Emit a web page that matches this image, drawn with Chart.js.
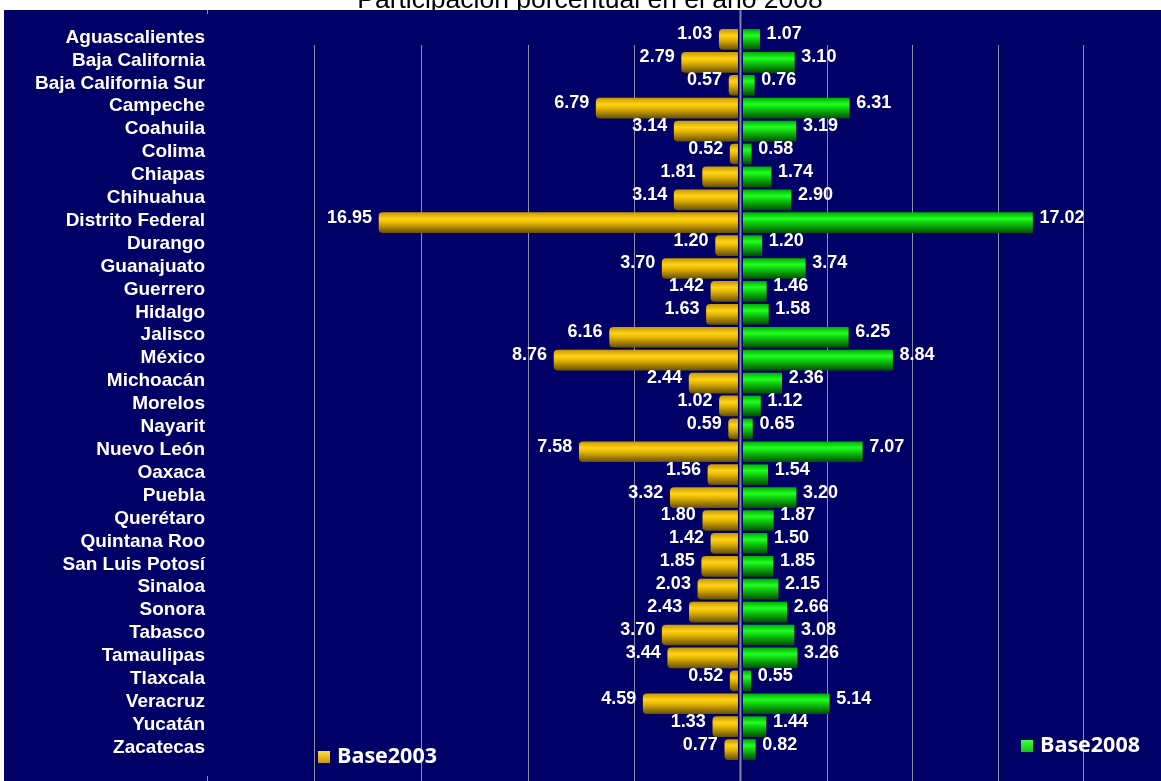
<!DOCTYPE html>
<html>
<head>
<meta charset="utf-8">
<script src="https://cdn.jsdelivr.net/npm/chart.js@4"></script>
<style>
  body { margin: 0; background: #fff; }
  #wrap { width: 1161px; height: 781px; }
</style>
</head>
<body>
<div id="wrap"><canvas id="myChart" width="1161" height="781"></canvas></div>
<script>
var estados = ["Aguascalientes", "Baja California", "Baja California Sur", "Campeche", "Coahuila", "Colima",
    "Chiapas", "Chihuahua", "Distrito Federal", "Durango", "Guanajuato", "Guerrero", "Hidalgo", "Jalisco",
    "México", "Michoacán", "Morelos", "Nayarit", "Nuevo León", "Oaxaca", "Puebla", "Querétaro",
    "Quintana Roo", "San Luis Potosí", "Sinaloa", "Sonora", "Tabasco", "Tamaulipas", "Tlaxcala",
    "Veracruz", "Yucatán", "Zacatecas"];
var base2003 = [1.03, 2.79, 0.57, 6.79, 3.14, 0.52, 1.81, 3.14, 16.95, 1.20, 3.70, 1.42, 1.63, 6.16,
    8.76, 2.44, 1.02, 0.59, 7.58, 1.56, 3.32, 1.80, 1.42, 1.85, 2.03, 2.43, 3.70, 3.44, 0.52, 4.59, 1.33, 0.77];
var base2008 = [1.07, 3.10, 0.76, 6.31, 3.19, 0.58, 1.74, 2.90, 17.02, 1.20, 3.74, 1.46, 1.58, 6.25,
    8.84, 2.36, 1.12, 0.65, 7.07, 1.54, 3.20, 1.87, 1.50, 1.85, 2.15, 2.66, 3.08, 3.26, 0.55, 5.14, 1.44, 0.82];
var titulo = "Participación porcentual en el año 2008";
var gridIzq = [-25, -20, -15, -10, -5];
var gridDer = [5, 10, 15, 20];

var NAVY = "#000066";

function barGradient(ctx, dark, bright, light, bottom) {
    var chart = ctx.chart;
    var y = chart.scales.y ? chart.scales.y.getPixelForValue(ctx.dataIndex) : null;
    if (y === null || isNaN(y)) return bright;
    var g = chart.ctx.createLinearGradient(0, y - 10, 0, y + 10);
    g.addColorStop(0, dark);
    g.addColorStop(0.3, bright);
    g.addColorStop(0.5, light);
    g.addColorStop(1, bottom);
    return g;
}

var fondo = {
    id: "fondo",
    beforeDraw: function (chart) {
        var c = chart.ctx;
        c.save();
        c.fillStyle = "#fff";
        c.fillRect(0, 0, chart.width, chart.height);
        c.fillStyle = "#000";
        c.font = '26.5px "Liberation Sans", Arial, sans-serif';
        c.textAlign = "center";
        c.textBaseline = "alphabetic";
        c.fillText(titulo, 590, 8);
        c.fillStyle = NAVY;
        c.fillRect(4, 10, chart.width - 4, chart.height - 10);
        c.restore();
    },
    beforeDatasetsDraw: function (chart) {
        var c = chart.ctx;
        var xl = chart.scales.xL, xr = chart.scales.xR;
        c.save();
        c.strokeStyle = "#8c8cac";
        c.lineWidth = 1;
        gridIzq.forEach(function (v) {
            var x = Math.round(xl.getPixelForValue(v)) + 0.5;
            c.beginPath();
            if (v === -25) {
                c.moveTo(x, 10); c.lineTo(x, 14);
                c.moveTo(x, 776); c.lineTo(x, 781);
            } else {
                c.moveTo(x, 45); c.lineTo(x, 781);
            }
            c.stroke();
        });
        gridDer.forEach(function (v) {
            var x = Math.round(xr.getPixelForValue(v)) + 0.5;
            c.beginPath();
            c.moveTo(x, 45); c.lineTo(x, 781);
            c.stroke();
        });
        c.restore();
    },
    afterDatasetsDraw: function (chart) {
        var c = chart.ctx;
        var x0 = chart.scales.xL.getPixelForValue(0);
        c.save();
        c.fillStyle = NAVY;
        c.fillRect(x0 - 3.3, 10, 5, chart.height - 10);
        c.strokeStyle = "#8484a4";
        c.lineWidth = 2;
        c.beginPath();
        c.moveTo(x0 - 0.8, 10);
        c.lineTo(x0 - 0.8, chart.height);
        c.stroke();

        // etiquetas de valor
        c.fillStyle = "#fff";
        c.font = 'bold 18px "Liberation Sans", Arial, sans-serif';
        c.textBaseline = "middle";
        chart.getDatasetMeta(0).data.forEach(function (el, i) {
            c.textAlign = "right";
            c.fillText(base2003[i].toFixed(2), el.x - 7, el.y - 5);
        });
        chart.getDatasetMeta(1).data.forEach(function (el, i) {
            c.textAlign = "left";
            c.fillText(base2008[i].toFixed(2), el.x + 7, el.y - 5);
        });

        // leyenda
        var g1 = c.createLinearGradient(0, 751, 0, 764);
        g1.addColorStop(0, "#ffe040");
        g1.addColorStop(1, "#c89000");
        c.fillStyle = g1;
        c.fillRect(318, 751, 12, 12);
        var g2 = c.createLinearGradient(0, 740, 0, 753);
        g2.addColorStop(0, "#40ff40");
        g2.addColorStop(1, "#10c010");
        c.fillStyle = g2;
        c.fillRect(1021, 740, 12, 12);
        c.fillStyle = "#fff";
        c.font = 'bold 21.5px "Open Sans", sans-serif';
        c.textAlign = "left";
        c.fillText(chart.data.datasets[0].label, 337, 757);
        c.fillText(chart.data.datasets[1].label, 1040, 746);
        c.restore();
    }
};

var ctx = document.getElementById("myChart").getContext("2d");
var myChart = new Chart(ctx, {
    type: "bar",
    data: {
        labels: estados,
        datasets: [
            {
                label: "Base2003",
                data: base2003.map(function (v) { return -v; }),
                xAxisID: "xL",
                grouped: false,
                barThickness: 20,
                borderRadius: 4,
                backgroundColor: function (c) { return barGradient(c, "#c99a00", "#ffd21a", "#e8b800", "#6b5200"); }
            },
            {
                label: "Base2008",
                data: base2008,
                xAxisID: "xR",
                grouped: false,
                barThickness: 20,
                backgroundColor: function (c) { return barGradient(c, "#00b000", "#22ff22", "#10d010", "#005200"); }
            }
        ]
    },
    options: {
        indexAxis: "y",
        responsive: false,
        animation: false,
        layout: { padding: { top: 28, bottom: 20, left: 0, right: 0 } },
        plugins: { legend: { display: false }, tooltip: { enabled: false } },
        scales: {
            xL: { type: "linear", position: "bottom", display: false, min: -25, max: 19.64 },
            xR: { type: "linear", position: "bottom", display: false, min: -31.23, max: 24.53 },
            y: {
                grid: { display: false, drawTicks: false },
                border: { display: false },
                afterFit: function (s) { s.width = 207; },
                ticks: {
                    color: "#fff",
                    padding: 2,
                    labelOffset: -2,
                    autoSkip: false,
                    font: { family: '"Liberation Sans", Arial, sans-serif', size: 19, weight: "bold" }
                }
            }
        }
    },
    plugins: [fondo]
});
</script>
</body>
</html>
